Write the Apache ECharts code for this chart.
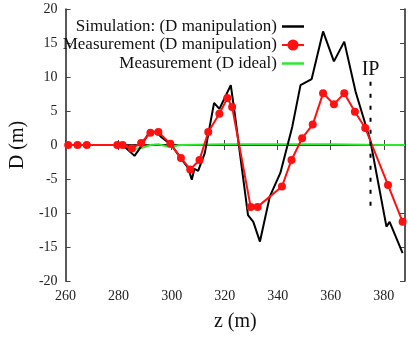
<!DOCTYPE html>
<html>
<head>
<meta charset="utf-8">
<script src="https://cdn.jsdelivr.net/npm/echarts@6/dist/echarts.min.js"></script>
<style>
  html, body { margin: 0; padding: 0; background: #fff; }
  #chart { width: 408px; height: 338px; }
</style>
</head>
<body>
<div id="chart"></div>
<script>
// simulation (D manipulation)
const simZ = [260, 280, 283, 286, 288, 291, 294, 296, 299, 300.3, 303.9, 306.3, 307.6, 308.6, 310, 312.5, 314.3, 316, 318, 322.3, 323.5, 328.8, 330.8, 333.3, 337, 341, 345.5, 348.6, 352.8, 357.1, 361.2, 365.1, 369.4, 374.9, 381, 382.2, 387.1]
const simD = [0, 0, -0.5, -1.6, -0.5, 1.5, 2.0, 1.2, 0.3, -0.2, -2.2, -3.4, -5.1, -3.5, -3.8, -1.2, 2.6, 6.2, 5.3, 8.8, 5.5, -10.3, -11.3, -14.2, -7.6, -4.1, 2.7, 8.8, 9.7, 16.7, 12.3, 15.2, 7.8, 0.7, -12, -11.3, -15.9]

// measurement (D manipulation)
const measZ = [261, 264.5, 268, 279.5, 281.5, 285, 288.5, 292, 295, 299.5, 303.5, 307, 310.5, 313.8, 318, 321, 322.8, 329.8, 332.4, 341.6, 345.2, 349.2, 353.2, 357.1, 361.2, 365.1, 369.1, 373, 381.6, 387.1]
const measD = [0, 0, 0, 0, 0, -0.5, 0.3, 1.8, 1.9, 0.2, -1.9, -3.6, -2.2, 1.9, 4.6, 6.9, 5.6, -9.1, -9.1, -6.1, -2.2, 1.0, 3.0, 7.6, 6.0, 7.6, 4.9, 2.5, -5.9, -11.3]

// measurement (D ideal)
const idealZ = [260, 280, 283, 286, 289, 292, 295, 298, 300, 303, 320, 340, 360, 380, 388]
const idealD = [0, 0, -0.2, -0.6, -0.4, 0, 0.1, -0.2, -0.3, 0, 0.1, 0.1, 0.1, 0, 0]

// IP marker line
const ipZ = [375, 375]
const ipD = [9.3, -10]

const names = ['Simulation: (D manipulation)', 'Measurement (D manipulation)', 'Measurement (D ideal)']

const zip = (xs, ys) => xs.map((x, i) => [x, ys[i]])

const chart = echarts.init(document.getElementById('chart'))

const font = 'Liberation Serif'
const frameLine = { show: true, lineStyle: { color: '#222', width: 1.5 } }
const tick = { show: true, inside: true, length: 5, lineStyle: { color: '#444' } }
const lineIcon = 'path://M0,0 L22,0 L22,2.5 L0,2.5 Z'

const option = {
  backgroundColor: '#fff',
  animation: false,
  textStyle: { fontFamily: font },
  grid: { left: 57, right: 2, top: 9, bottom: 57 },
  legend: {
    orient: 'vertical',
    right: 98,
    top: 13,
    align: 'right',
    itemWidth: 22,
    itemHeight: 14,
    itemGap: 1.5,
    data: [
      { name: names[0], icon: lineIcon },
      { name: names[1] },
      { name: names[2], icon: lineIcon }
    ],
    textStyle: { fontFamily: font, fontSize: 17, lineHeight: 17, color: '#111', padding: [0, 0, 0, 0] }
  },
  xAxis: [
    {
      type: 'value', min: 260, max: 388, interval: 20,
      name: 'z (m)', nameLocation: 'middle', nameGap: 31,
      nameTextStyle: { fontFamily: font, fontSize: 20, color: '#111' },
      axisLine: frameLine, axisTick: tick, splitLine: { show: false },
      axisLabel: {
        fontFamily: font, fontSize: 14, color: '#222', margin: 8,
        formatter: v => (v % 20 === 0 ? String(v) : '')
      }
    },
    {
      type: 'value', position: 'top', min: 260, max: 388, interval: 20,
      axisLine: frameLine, axisTick: tick, splitLine: { show: false },
      axisLabel: { show: false }
    }
  ],
  yAxis: [
    {
      type: 'value', min: -20, max: 20, interval: 5,
      name: 'D (m)', nameLocation: 'middle', nameGap: 32, nameRotate: 90,
      nameTextStyle: { fontFamily: font, fontSize: 20, color: '#111' },
      axisLine: frameLine, axisTick: tick, splitLine: { show: false },
      axisLabel: { fontFamily: font, fontSize: 14, color: '#222', margin: 8 }
    },
    {
      type: 'value', position: 'right', min: -20, max: 20, interval: 5,
      axisLine: frameLine, axisTick: tick, splitLine: { show: false },
      axisLabel: { show: false }
    }
  ],
  series: [
    {
      name: names[2], type: 'line', data: zip(idealZ, idealD),
      symbol: 'none', lineStyle: { color: '#2ee82e', width: 2 },
      itemStyle: { color: '#2ee82e' }, z: 1
    },
    {
      name: names[0], type: 'line', data: zip(simZ, simD),
      symbol: 'none', lineStyle: { color: '#000', width: 2 },
      itemStyle: { color: '#000' }, z: 2
    },
    {
      name: names[1], type: 'line', data: zip(measZ, measD),
      symbol: 'circle', symbolSize: 8,
      lineStyle: { color: '#ff1111', width: 2 },
      itemStyle: { color: '#ff1111' }, z: 3
    },
    {
      name: 'IP', type: 'line', data: zip(ipZ, ipD),
      symbol: 'none', lineStyle: { color: '#000', width: 2, type: [4, 8] },
      markPoint: {
        symbol: 'circle', symbolSize: 0,
        data: [{ coord: [ipZ[0], ipD[0]], value: 'IP' }],
        label: {
          show: true, position: 'top', distance: 2, formatter: 'IP',
          fontFamily: font, fontSize: 20, color: '#111'
        }
      },
      z: 4
    }
  ]
}

chart.setOption(option)
</script>
</body>
</html>
